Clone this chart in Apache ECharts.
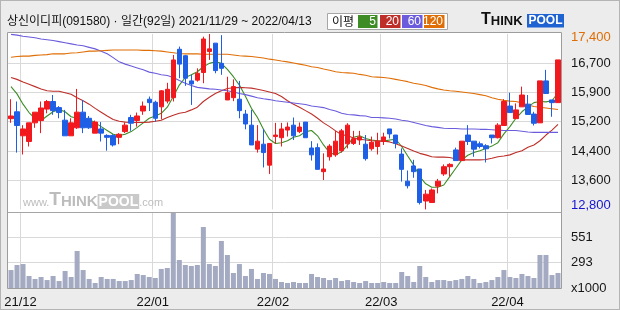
<!DOCTYPE html>
<html><head><meta charset="utf-8">
<script src="https://cdn.jsdelivr.net/npm/echarts@6/dist/echarts.min.js"></script>
<style>
html,body{margin:0;padding:0;background:#ececec;}
#wrap{position:relative;width:620px;height:310px;background:#ececec;overflow:hidden;}
#plotbg{position:absolute;left:7px;top:32px;width:555px;height:256px;background:#fff;}
#edge{position:absolute;left:0;top:0;width:620px;height:310px;box-sizing:border-box;border:1px solid #b4b4b4;}
#c{position:absolute;left:0;top:0;width:620px;height:310px;}
</style>
</head><body>
<div id="wrap"><div id="plotbg"></div><div id="edge"></div><div id="c"></div></div>
<script>
// ---- data ----
const dates = [
 '2021/11/29','2021/11/30',
 '2021/12/01','2021/12/02','2021/12/03','2021/12/06','2021/12/07','2021/12/08','2021/12/09','2021/12/10',
 '2021/12/13','2021/12/14','2021/12/15','2021/12/16','2021/12/17','2021/12/20','2021/12/21','2021/12/22',
 '2021/12/23','2021/12/24','2021/12/27','2021/12/28','2021/12/29','2021/12/30',
 '2022/01/03','2022/01/04','2022/01/05','2022/01/06','2022/01/07','2022/01/10','2022/01/11','2022/01/12',
 '2022/01/13','2022/01/14','2022/01/17','2022/01/18','2022/01/19','2022/01/20','2022/01/21','2022/01/24',
 '2022/01/25','2022/01/26','2022/01/27','2022/01/28',
 '2022/02/03','2022/02/04','2022/02/07','2022/02/08','2022/02/09','2022/02/10','2022/02/11','2022/02/14',
 '2022/02/15','2022/02/16','2022/02/17','2022/02/18','2022/02/21','2022/02/22','2022/02/23','2022/02/24',
 '2022/02/25','2022/02/28',
 '2022/03/02','2022/03/03','2022/03/04','2022/03/07','2022/03/08','2022/03/10','2022/03/11','2022/03/14',
 '2022/03/15','2022/03/16','2022/03/17','2022/03/18','2022/03/21','2022/03/22','2022/03/23','2022/03/24',
 '2022/03/25','2022/03/28','2022/03/29','2022/03/30','2022/03/31',
 '2022/04/01','2022/04/04','2022/04/05','2022/04/06','2022/04/07','2022/04/08','2022/04/11','2022/04/12',
 '2022/04/13'
];
const opens = [15180,15360,14730,14580,15070,15130,15430,15630,15470,15140,
 14730,14940,15350,15190,14800,14910,14740,14740,14690,14840,
 15210,15130,15380,15690,15610,15490,15640,15730,17000,16830,
 16170,16190,16390,16940,17160,16630,15670,15730,15690,15300,
 15010,14380,14510,13960,14710,14680,14880,15010,14840,15090,
 14410,14420,13790,14180,14230,14340,14520,14530,14620,14510,
 14390,14450,14580,14910,14750,14250,13540,13940,13860,13020,
 12980,13410,13730,13920,14360,14080,14750,14590,14520,14470,
 14750,14680,15000,15510,15180,15490,15560,15300,15070,16170,
 15670,15600];
const closes = [15250,15000,14910,15070,15350,15460,15630,15390,15340,14730,
 15070,15350,14940,14940,15090,14800,14690,14490,14770,15010,
 15060,15250,15510,15600,15190,15910,15950,16720,16610,16240,
 16090,16370,17270,17010,16440,16500,15860,16020,15390,15040,
 14490,14590,14290,14530,14750,14910,14960,14730,14960,14680,
 14230,13850,13860,14460,14590,14860,15010,14650,14700,14130,
 14560,14590,14700,14780,14530,13850,13420,13790,12980,13200,
 13310,13540,13920,13980,14080,14590,14580,14380,14450,14390,
 14680,15010,15630,15340,15410,15800,15290,15060,16170,15840,
 15600,16720];
const lows = [15070,14290,14240,14450,14940,14800,15320,15280,15190,14730,
 14730,14910,14800,14910,14800,14580,14340,14450,14510,14800,
 14860,14970,15280,15380,15100,15160,15580,15630,16240,16040,
 15540,16150,16110,16720,16370,16330,15670,15640,15190,14900,
 14490,14290,13900,13730,14530,14450,14710,14620,14800,14680,
 14080,13850,13570,14080,14180,14290,14400,14490,14490,14080,
 14340,14240,14490,14660,14400,13530,13350,13630,12930,12800,
 12980,13220,13680,13660,14080,14080,14490,14180,14400,14030,
 14530,14660,14990,15340,15180,15490,15290,15000,15070,15840,
 15230,15600];
const highs = [15690,15630,15010,15070,15350,15630,15670,15800,15510,15410,
 15190,15960,15670,15250,15130,15090,14770,14770,14800,15080,
 15280,15340,15630,15760,15650,15930,16120,16850,17070,16850,
 16330,16500,17330,17400,17160,17370,16280,16210,16170,15410,
 15410,15010,14910,14530,15070,15070,15080,15210,15080,15090,
 14590,14530,14270,14510,14860,14910,15060,14860,14860,14750,
 14710,14810,14810,14910,14750,14400,13820,14100,13860,13310,
 13350,13600,13980,14010,14420,14590,15010,14590,14580,14510,
 14750,15060,15690,15860,15580,16020,15800,15360,16170,16460,
 15670,16720];
const volumes = [218,269,279,157,127,147,116,157,106,208,
 147,412,218,127,86,147,127,127,106,106,
 116,178,167,147,137,229,239,800,320,269,
 259,269,656,279,259,514,371,188,279,157,
 229,127,188,178,127,96,86,96,86,86,
 178,147,137,116,137,106,116,96,86,106,
 86,86,96,86,86,198,157,96,259,147,
 96,116,116,106,116,127,157,127,86,96,
 116,147,218,147,137,178,157,137,371,371,
 167,188];
const ma5 = [16020,15830,15560,15340,15180,15130,15250,15360,15420,15360,
 15230,15190,15190,15160,15070,14970,14870,14770,14740,14770,
 14840,14950,15070,15190,15250,15320,15480,15760,16060,16260,
 16330,16410,16540,16630,16670,16630,16470,16280,16060,15770,
 15450,15210,14900,14640,14530,14550,14600,14690,14730,14840,
 14870,14730,14490,14290,14230,14310,14490,14690,14730,14660,
 14620,14600,14590,14620,14640,14450,14200,13960,13660,13470,
 13380,13380,13440,13660,13880,14100,14220,14290,14340,14400,
 14460,14550,14780,14970,15190,15360,15490,15600,15630,15620,
 15650,15860];
const ma20 = [16260,16210,16140,16080,16020,15960,15910,15900,15900,15860,
 15820,15730,15650,15560,15450,15350,15250,15160,15110,15090,
 15080,15080,15080,15090,15110,15140,15210,15270,15320,15350,
 15410,15480,15630,15740,15840,15910,15970,15990,16000,15990,
 15980,15950,15920,15880,15840,15760,15650,15560,15480,15390,
 15300,15190,15070,14970,14860,14760,14730,14670,14640,14620,
 14600,14590,14590,14570,14520,14460,14400,14330,14270,14230,
 14180,14170,14170,14160,14120,14100,14100,14100,14100,14110,
 14140,14180,14200,14230,14290,14340,14430,14490,14600,14750,
 14880,15030];
const ma60 = [17390,17370,17340,17320,17300,17270,17250,17230,17200,17170,
 17140,17110,17090,17050,17010,16950,16880,16780,16670,16610,
 16560,16510,16460,16400,16370,16330,16310,16260,16180,16110,
 16050,16000,15980,15960,15950,15930,15910,15880,15840,15810,
 15770,15730,15700,15680,15650,15630,15610,15590,15570,15550,
 15510,15490,15470,15420,15380,15320,15290,15280,15260,15250,
 15210,15210,15200,15190,15170,15140,15120,15080,15040,15000,
 14970,14950,14930,14920,14920,14910,14910,14910,14900,14900,
 14890,14880,14870,14870,14870,14850,14830,14820,14820,14820,
 14820,14820];
const ma120 = [16790,16810,16820,16820,16840,16850,16860,16880,16880,16880,
 16900,16910,16930,16950,16950,16960,16970,16980,16980,16980,
 16980,16980,16970,16970,16960,16950,16930,16910,16890,16880,
 16880,16880,16870,16870,16870,16870,16870,16850,16830,16820,
 16810,16790,16770,16740,16720,16690,16670,16640,16610,16580,
 16540,16520,16480,16450,16410,16390,16380,16370,16340,16320,
 16280,16270,16260,16240,16210,16180,16150,16110,16080,16050,
 16000,15960,15930,15910,15900,15880,15860,15840,15810,15780,
 15730,15690,15660,15640,15630,15590,15540,15500,15480,15460,
 15440,15420];
const priceTickLabels = ['12,800','13,600','14,400','15,200','15,900','16,700','17,400'];
const priceMin = 12800, priceMax = 17400;
const volTickLabels = ['x1000','293','551',''];
const volMin = 35, volMax = 809;
const maNames = ['5','20','60','120'];
const titleText = '상신이디피(091580) · 일간(92일) 2021/11/29 ~ 2022/04/13';

// ---- styling ----
const maColors = ['#3d8c26','#be2f2a','#6a5cdc','#e06e06'];
const UP = '#f2191e', DOWN = '#1e5fe6';
const NUMFONT = '"Liberation Sans",Arial,sans-serif';
const KFONT = '"Liberation Sans","Noto Sans CJK KR",sans-serif';
const LBLSIZE = 13;

const monthStart = dates.map((d,i)=> i>0 && d.slice(5,7)!==dates[i-1].slice(5,7));
const monthLabel = d => d.slice(2,4)+'/'+d.slice(5,7);
const candleData = dates.map((d,i)=>[opens[i], closes[i], lows[i], highs[i]]);
const GRIDC = '#d9d9d9';

const chart = echarts.init(document.getElementById('c'), null, {renderer:'canvas'});

const xBase = (gi, showLabel) => ({
  type:'category', gridIndex:gi, data:dates, boundaryGap:true,
  axisLine:{show:false}, axisTick:{show:false},
  axisLabel: showLabel ? {
    show:true, interval:(i)=>monthStart[i], formatter:(v)=>monthLabel(v),
    margin:8, padding:[0,5,0,0], fontSize:13, fontFamily:NUMFONT, color:'#111'
  } : {show:false},
  splitLine:{show:true, interval:(i)=>monthStart[i], lineStyle:{color:GRIDC, width:1}}
});

const maSeries = [ma5, ma20, ma60, ma120].map((arr, k)=>({
  name: maNames[k], type:'line', xAxisIndex:0, yAxisIndex:0, data:arr,
  symbol:'none', smooth:false, z:2,
  lineStyle:{color:maColors[k], width:1.1}
}));

// legend graphics
const legBoxX = [358, 380, 402, 424], legBoxW = [19.5, 20.5, 20.5, 20.5];
const legendEls = [
  {type:'rect', shape:{x:327.5, y:13.5, width:120, height:16}, style:{fill:'#fff', stroke:'#a6a6a6', lineWidth:1}},
  {type:'text', x:332, y:21.5, style:{text:'이평', font:'12px "Noto Sans CJK KR",sans-serif', fill:'#111', align:'left', verticalAlign:'middle'}}
];
maNames.forEach((n,k)=>{
  legendEls.push({type:'rect', shape:{x:legBoxX[k], y:15, width:legBoxW[k], height:13}, style:{fill:maColors[k]}});
  legendEls.push({type:'text', x:legBoxX[k]+legBoxW[k]-1.5, y:21.8, style:{text:n, font:'12px "Liberation Sans",Arial,sans-serif', fill:'#fff', align:'right', verticalAlign:'middle'}});
});

const option = {
  animation:false,
  backgroundColor:'transparent',
  grid:[
    {left:8, top:34, width:553, height:175.4},
    {left:8, top:212, width:553, height:76}
  ],
  xAxis:[ xBase(0,false), xBase(1,true) ],
  yAxis:[
    {type:'value', gridIndex:0, min:priceMin, max:priceMax, show:false, scale:true},
    {type:'value', gridIndex:0, min:0, max:priceTickLabels.length-1, interval:1, position:'right',
      axisLine:{show:false}, axisTick:{show:false},
      splitLine:{show:true, showMinLine:false, showMaxLine:false, lineStyle:{color:GRIDC, width:1}},
      axisLabel:{show:true, margin:10, fontSize:LBLSIZE, fontFamily:NUMFONT, color:'#161616',
        formatter:(v)=>{
          const t = priceTickLabels[v];
          if (v===priceTickLabels.length-1) return '{mx|'+t+'}';
          if (v===0) return '{mn|'+t+'}';
          return '{n|'+t+'}';
        },
        rich:{
          n:{fontSize:LBLSIZE, fontFamily:NUMFONT, color:'#161616'},
          mx:{fontSize:LBLSIZE, fontFamily:NUMFONT, color:'#e06e06', padding:[7,0,0,0]},
          mn:{fontSize:LBLSIZE, fontFamily:NUMFONT, color:'#1414d2', padding:[0,0,7,0]}
        }
      }
    },
    {type:'value', gridIndex:1, min:volMin, max:volMax, show:false},
    {type:'value', gridIndex:1, min:0, max:volTickLabels.length-1, interval:1, position:'right',
      axisLine:{show:false}, axisTick:{show:false},
      splitLine:{show:true, lineStyle:{color:GRIDC, width:1}},
      axisLabel:{show:true, margin:10, fontSize:LBLSIZE, fontFamily:NUMFONT, color:'#161616',
        formatter:(v)=>volTickLabels[v]}
    }
  ],
  series:[
    ...maSeries,
    {type:'candlestick', name:'price', xAxisIndex:0, yAxisIndex:0, data:candleData, barWidth:5, z:3,
      itemStyle:{color:UP, color0:DOWN, borderColor:UP, borderColor0:DOWN, borderWidth:1}},
    {type:'bar', name:'volume', xAxisIndex:1, yAxisIndex:2, data:volumes, barWidth:5, clip:true,
      itemStyle:{color:'#a3aac2'}}
  ],
  graphic:{elements:[
    // watermark
    {type:'text', x:23, y:209, z:1, silent:true, style:{
      text:'{w|www.}{t|T}{h|HINK}{p|POOL}{c|.com}', align:'left', verticalAlign:'bottom',
      rich:{
        w:{font:'11px "Liberation Sans",Arial', fill:'#bdbdbd', verticalAlign:'bottom', padding:[0,0,1,0]},
        t:{font:'bold 19px "Liberation Sans",Arial', fill:'#bcbcbc', verticalAlign:'bottom'},
        h:{font:'bold 15px "Liberation Sans",Arial', fill:'#bcbcbc', verticalAlign:'bottom'},
        p:{font:'bold 14px "Liberation Sans",Arial', fill:'#fff', backgroundColor:'#c9c9c9', padding:[1,1,0,1], verticalAlign:'bottom'},
        c:{font:'11px "Liberation Sans",Arial', fill:'#bdbdbd', verticalAlign:'bottom', padding:[0,0,1,0]}
      }}},
    // frame and separator
    {type:'rect', z:50, silent:true, shape:{x:7.5, y:32.5, width:554, height:256}, style:{fill:'none', stroke:'#9d9d9d', lineWidth:1}},
    {type:'line', z:50, silent:true, shape:{x1:7.5, y1:212.5, x2:561.5, y2:212.5}, style:{stroke:'#a5a5a5', lineWidth:1}},
    // title
    {type:'text', x:7, y:21.5, z:50, style:{text:titleText, font:'12px '+KFONT, fill:'#111', align:'left', verticalAlign:'middle'}},
    // legend
    {type:'group', z:50, children:legendEls},
    // logo
    {type:'text', x:481, y:27.5, z:50, style:{text:'{t|T}{h|HINK}', align:'left', verticalAlign:'bottom',
      rich:{
        t:{font:'bold 16px "Liberation Sans",Arial', fill:'#111', verticalAlign:'bottom'},
        h:{font:'bold 13px "Liberation Sans",Arial', fill:'#111', verticalAlign:'bottom'}
      }}},
    {type:'rect', z:50, shape:{x:527, y:14, width:37, height:13.5}, style:{fill:'#1f62d2'}},
    {type:'text', x:545.5, y:21, z:51, style:{text:'POOL', font:'bold 12px "Liberation Sans",Arial', fill:'#fff', align:'center', verticalAlign:'middle'}}
  ]}
};
chart.setOption(option);
</script>
</body></html>
